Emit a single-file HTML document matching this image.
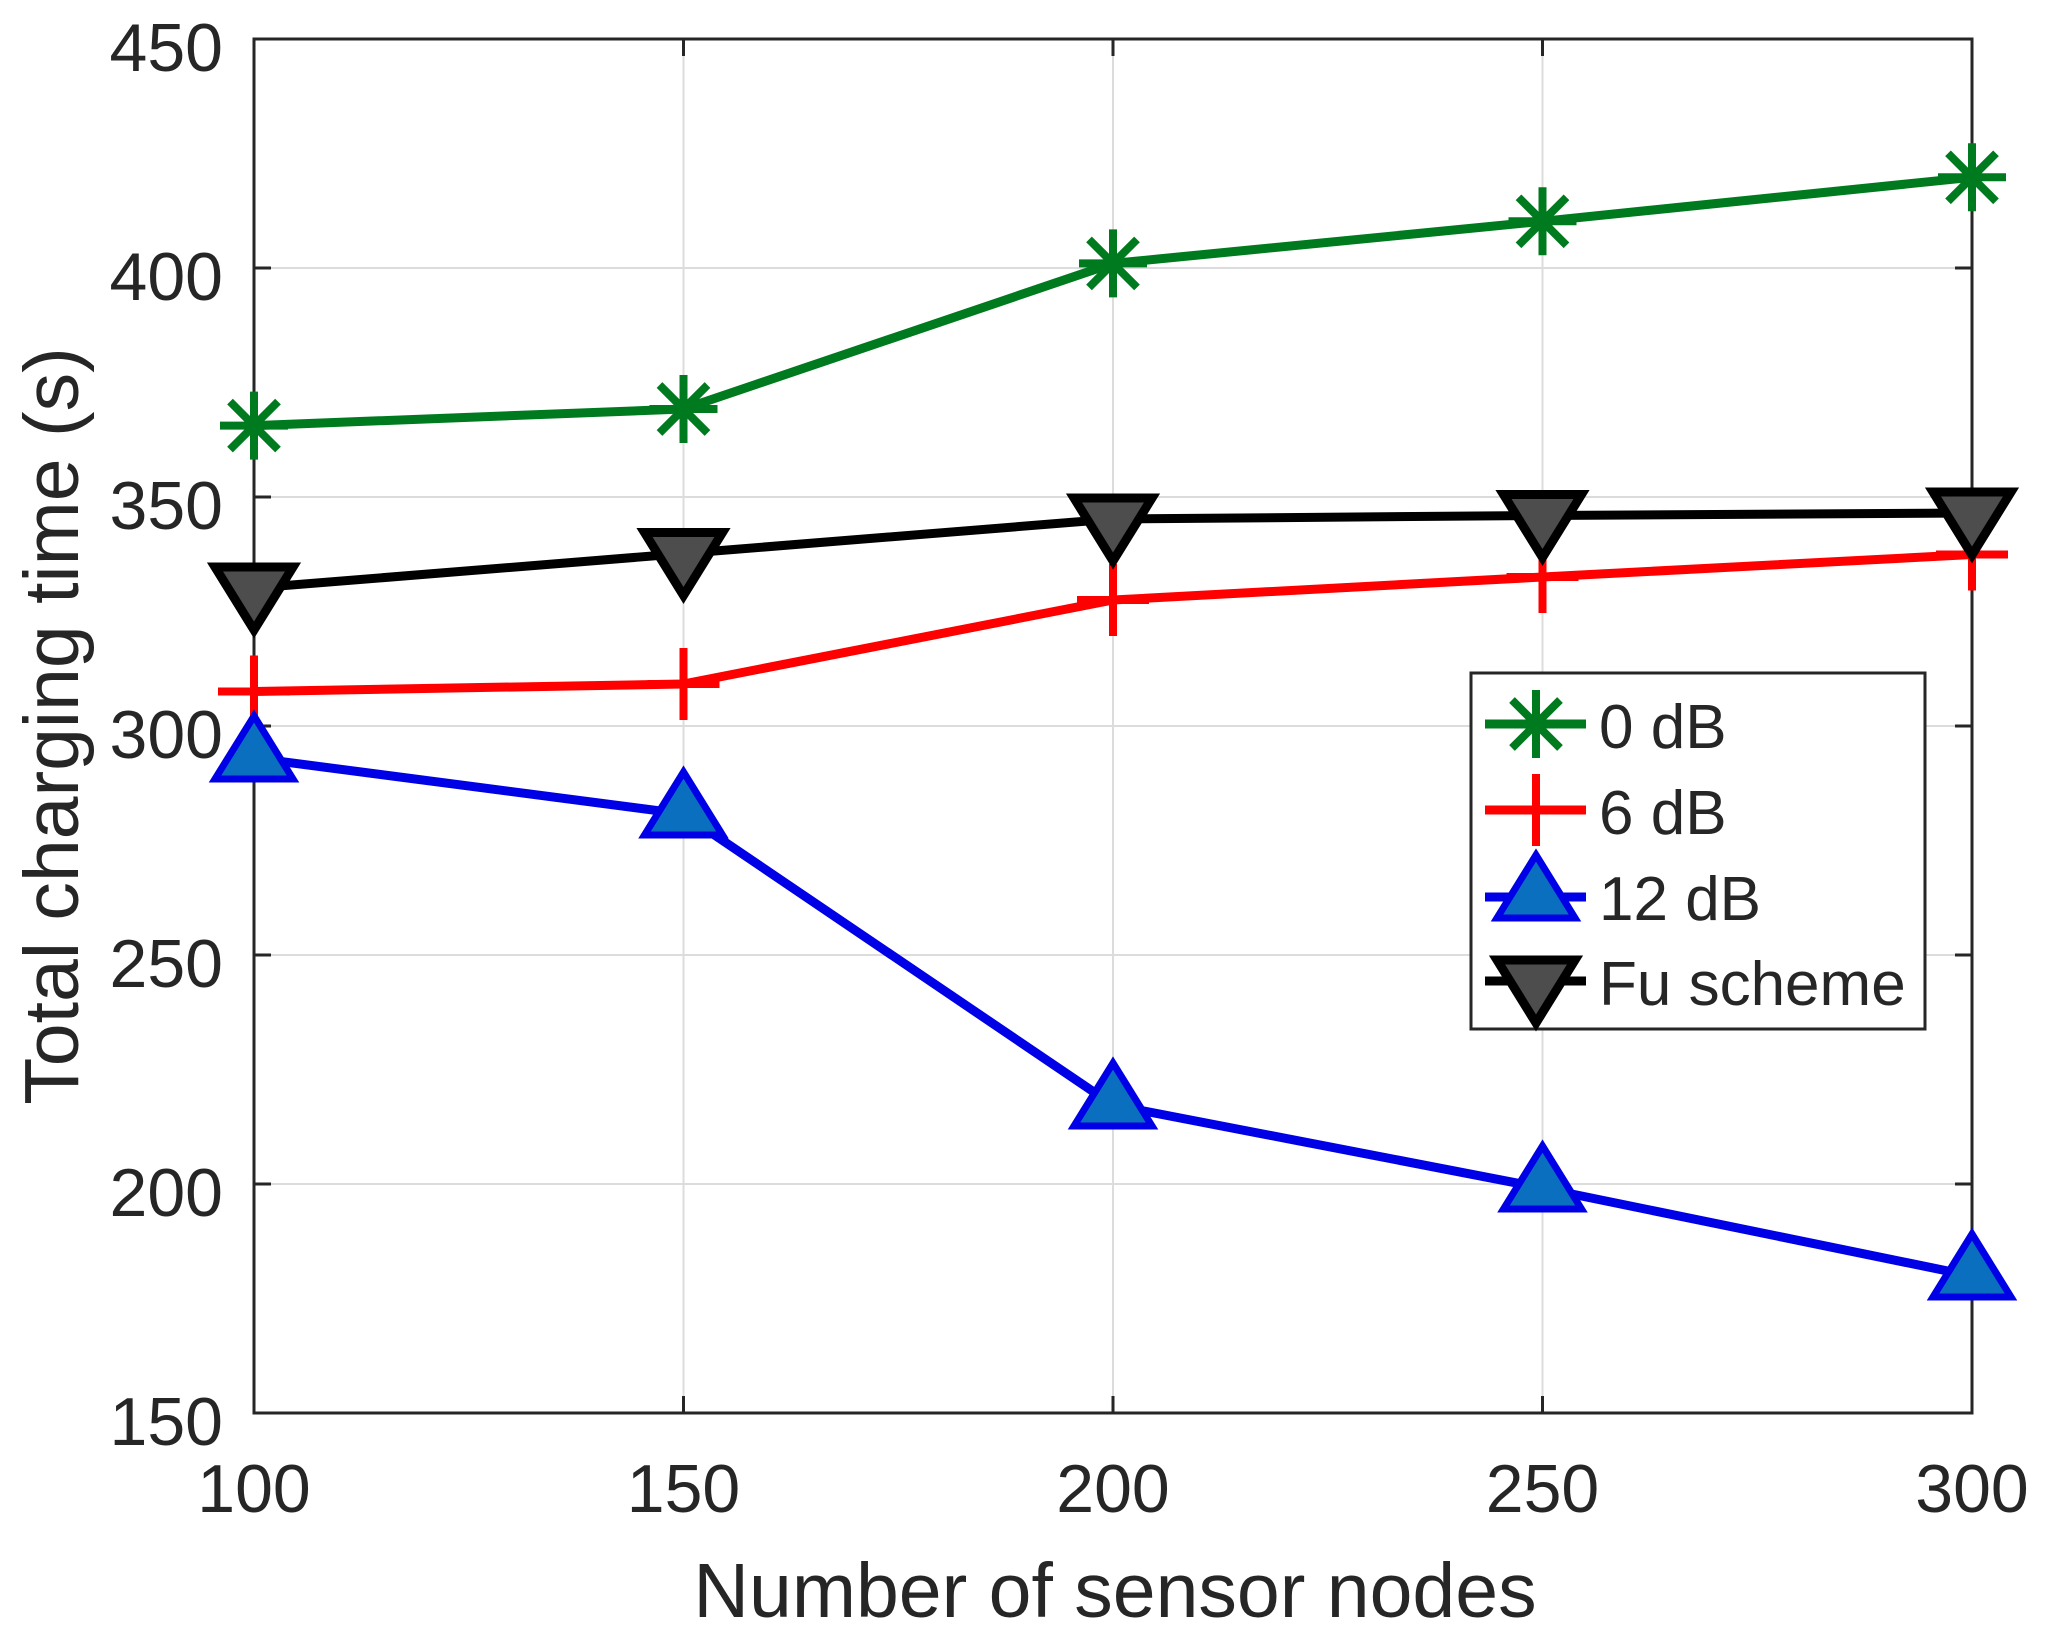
<!DOCTYPE html>
<html>
<head>
<meta charset="utf-8">
<style>
  html, body { margin: 0; padding: 0; background: #ffffff; }
  svg { display: block; }
  text { font-family: "Liberation Sans", Arial, sans-serif; fill: #262626; }
</style>
</head>
<body>
<svg width="2046" height="1637" viewBox="0 0 2046 1637" xmlns="http://www.w3.org/2000/svg">
  <rect x="0" y="0" width="2046" height="1637" fill="#ffffff"/>
  <defs>
    <g id="star">
      <path d="M0,-34 V34 M-34,0 H34 M-24,-24 L24,24 M-24,24 L24,-24" stroke="#007a1e" stroke-width="8" fill="none"/>
    </g>
    <g id="plus">
      <path d="M0,-36 V36 M-36,0 H36" stroke="#ff0000" stroke-width="8" fill="none"/>
    </g>
    <g id="tup">
      <path d="M0,-42 L39,21 L-39,21 Z" stroke="#0000e6" stroke-width="7" fill="#0b6fbf" stroke-linejoin="miter"/>
    </g>
    <g id="tdn">
      <path d="M-39,-21 L39,-21 L0,42 Z" stroke="#000000" stroke-width="9" fill="#4d4d4d" stroke-linejoin="miter"/>
    </g>
  </defs>

  <!-- grid -->
  <g stroke="#dcdcdc" stroke-width="2">
    <line x1="254" y1="268" x2="1972" y2="268"/>
    <line x1="254" y1="497" x2="1972" y2="497"/>
    <line x1="254" y1="726" x2="1972" y2="726"/>
    <line x1="254" y1="955" x2="1972" y2="955"/>
    <line x1="254" y1="1184" x2="1972" y2="1184"/>
    <line x1="683.5" y1="39" x2="683.5" y2="1413"/>
    <line x1="1113" y1="39" x2="1113" y2="1413"/>
    <line x1="1542.5" y1="39" x2="1542.5" y2="1413"/>
  </g>

  <!-- axes box -->
  <rect x="254" y="39" width="1718" height="1374" fill="none" stroke="#262626" stroke-width="3"/>
  <!-- ticks -->
  <g stroke="#262626" stroke-width="3">
    <line x1="254" y1="268" x2="271" y2="268"/><line x1="1972" y1="268" x2="1955" y2="268"/>
    <line x1="254" y1="497" x2="271" y2="497"/><line x1="1972" y1="497" x2="1955" y2="497"/>
    <line x1="254" y1="726" x2="271" y2="726"/><line x1="1972" y1="726" x2="1955" y2="726"/>
    <line x1="254" y1="955" x2="271" y2="955"/><line x1="1972" y1="955" x2="1955" y2="955"/>
    <line x1="254" y1="1184" x2="271" y2="1184"/><line x1="1972" y1="1184" x2="1955" y2="1184"/>
    <line x1="683.5" y1="1413" x2="683.5" y2="1396"/><line x1="683.5" y1="39" x2="683.5" y2="56"/>
    <line x1="1113" y1="1413" x2="1113" y2="1396"/><line x1="1113" y1="39" x2="1113" y2="56"/>
    <line x1="1542.5" y1="1413" x2="1542.5" y2="1396"/><line x1="1542.5" y1="39" x2="1542.5" y2="56"/>
  </g>

  <!-- y tick labels -->
  <g font-size="68" text-anchor="end">
    <text x="223" y="71">450</text>
    <text x="223" y="300">400</text>
    <text x="223" y="529">350</text>
    <text x="223" y="758">300</text>
    <text x="223" y="987">250</text>
    <text x="223" y="1216">200</text>
    <text x="223" y="1445">150</text>
  </g>
  <!-- x tick labels -->
  <g font-size="68" text-anchor="middle">
    <text x="254" y="1512">100</text>
    <text x="683.5" y="1512">150</text>
    <text x="1113" y="1512">200</text>
    <text x="1542.5" y="1512">250</text>
    <text x="1972" y="1512">300</text>
  </g>

  <!-- axis labels -->
  <text x="1115" y="1617" font-size="77" text-anchor="middle">Number of sensor nodes</text>
  <text transform="translate(78,726) rotate(-90)" font-size="77" text-anchor="middle">Total charging time (s)</text>

  <!-- series: 0 dB green -->
  <polyline points="254,425.6 683.5,409 1113,263.4 1542.5,221.3 1972,177.3" fill="none" stroke="#007a1e" stroke-width="9" stroke-linejoin="round"/>
  <use href="#star" x="254" y="425.6"/>
  <use href="#star" x="683.5" y="409"/>
  <use href="#star" x="1113" y="263.4"/>
  <use href="#star" x="1542.5" y="221.3"/>
  <use href="#star" x="1972" y="177.3"/>

  <!-- 6 dB red -->
  <polyline points="254,691.5 683.5,684 1113,600 1542.5,577 1972,554.5" fill="none" stroke="#ff0000" stroke-width="9" stroke-linejoin="round"/>
  <use href="#plus" x="254" y="691.5"/>
  <use href="#plus" x="683.5" y="684"/>
  <use href="#plus" x="1113" y="600"/>
  <use href="#plus" x="1542.5" y="577"/>
  <use href="#plus" x="1972" y="554.5"/>

  <!-- 12 dB blue -->
  <polyline points="254,758 683.5,814 1113,1105 1542.5,1188 1972,1276" fill="none" stroke="#0000e6" stroke-width="9" stroke-linejoin="round"/>
  <use href="#tup" x="254" y="758"/>
  <use href="#tup" x="683.5" y="814"/>
  <use href="#tup" x="1113" y="1105"/>
  <use href="#tup" x="1542.5" y="1188"/>
  <use href="#tup" x="1972" y="1276"/>

  <!-- Fu scheme black -->
  <polyline points="254,588 683.5,553.5 1113,519 1542.5,515.5 1972,513" fill="none" stroke="#000000" stroke-width="9" stroke-linejoin="round"/>
  <use href="#tdn" x="254" y="588"/>
  <use href="#tdn" x="683.5" y="553.5"/>
  <use href="#tdn" x="1113" y="519"/>
  <use href="#tdn" x="1542.5" y="515.5"/>
  <use href="#tdn" x="1972" y="513"/>

  <!-- legend -->
  <rect x="1471" y="673" width="454" height="356" fill="#ffffff" stroke="#262626" stroke-width="3"/>
  <line x1="1485" y1="724" x2="1586" y2="724" stroke="#007a1e" stroke-width="9"/>
  <use href="#star" x="1536" y="724"/>
  <line x1="1485" y1="810" x2="1586" y2="810" stroke="#ff0000" stroke-width="9"/>
  <use href="#plus" x="1536" y="810"/>
  <line x1="1485" y1="897" x2="1586" y2="897" stroke="#0000e6" stroke-width="9"/>
  <use href="#tup" x="1536" y="897"/>
  <line x1="1485" y1="981" x2="1586" y2="981" stroke="#000000" stroke-width="9"/>
  <use href="#tdn" x="1536" y="981"/>
  <g font-size="62">
    <text x="1599" y="748">0 dB</text>
    <text x="1599" y="834">6 dB</text>
    <text x="1599" y="920">12 dB</text>
    <text x="1599" y="1005">Fu scheme</text>
  </g>
</svg>
</body>
</html>
